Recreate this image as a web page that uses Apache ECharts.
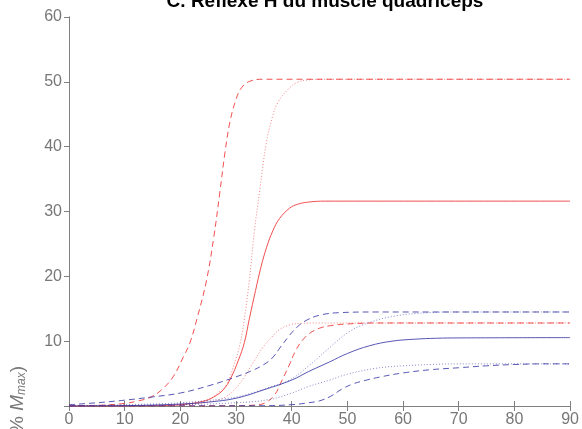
<!DOCTYPE html>
<html>
<head>
<meta charset="utf-8">
<script src="https://cdn.jsdelivr.net/npm/echarts@6/dist/echarts.min.js"></script>
<style>
html,body{margin:0;padding:0;background:#fff;}
#c{width:582px;height:429px;}
</style>
</head>
<body>
<div id="c"></div>
<script>
// x ticks / y ticks
var xTicks = [0,10,20,30,40,50,60,70,80,90];
var yTicks = [0,10,20,30,40,50,60];

// Red curves [x, % Mmax]
var redDashedHigh = [[0,0.05],[5,0.1],[10,0.4],[12.5,0.8],[14.5,1.3],[16.5,2.4],[18.7,4.5],[20.5,7.5],[21.7,9.7],[23,13.5],[24.7,19.4],[26,26],[27.1,33],[28,39],[28.9,43.8],[30,47.3],[31,49.1],[32.5,50.1],[35,50.4],[90,50.4]];
var redDottedHigh = [[0,0],[15,0.1],[20,0.3],[25,1.0],[27,2.2],[28.3,3.3],[29.5,6],[30.7,9.5],[31.5,13.5],[32.4,19.5],[33.3,27],[34.3,33.5],[35.4,40.4],[36.5,44.5],[37.5,46.8],[39.3,48.8],[41,49.9],[43,50.3],[46,50.4],[90,50.4]];
var redSolid = [[0,0],[15,0.05],[20,0.2],[24,0.7],[26,1.4],[27.7,2.5],[29,4.2],[30.4,7],[31.5,9.8],[32.4,13.5],[33.5,17.8],[34.5,21.5],[35.5,24.5],[36.6,27],[37.8,28.9],[39.6,30.5],[41,31.1],[43,31.45],[46,31.6],[90,31.6]];
var redDottedLow = [[0,0],[15,0.05],[20,0.15],[25,0.6],[27,1.0],[28.3,1.5],[30,2.8],[31.5,4.5],[33,6.6],[34.8,9.0],[36.6,10.8],[38,11.9],[39.6,12.5],[41.5,12.75],[45,12.8],[90,12.8]];
var redDashedLow = [[0,0],[30,0.05],[34,0.2],[35.5,0.6],[37,1.8],[38,3.5],[39.5,6.2],[40.8,8.7],[42,10.2],[43.2,11.2],[45,12],[47,12.4],[50,12.65],[55,12.8],[90,12.8]];

// Blue curves [x, % Mmax]
var blueDashedHigh = [[0,0.2],[5,0.5],[10,0.9],[15,1.4],[20,2.0],[25,3.1],[30,4.5],[33,5.5],[35,6.4],[36.5,7.4],[38,9.1],[39.6,10.9],[41,12.2],[42.6,13.2],[45,14.0],[48.6,14.4],[55,14.5],[90,14.5]];
var blueDottedHigh = [[0,0],[10,0.2],[20,0.5],[27.7,1.1],[30.7,1.5],[33.6,2.2],[36,2.9],[39.6,4.0],[43.2,6.3],[46.8,9.0],[50.4,11.5],[54,12.9],[58.7,13.9],[64.7,14.4],[70,14.5],[90,14.5]];
var blueSolid = [[0,0],[10,0.05],[20,0.3],[25,0.6],[30,1.2],[35,2.5],[40,4.0],[43,5.3],[46.8,6.8],[50,8.1],[54,9.3],[58,10.0],[62,10.3],[66,10.45],[70,10.5],[90,10.55]];
var blueDottedLow = [[0,0],[20,0.2],[30,0.5],[36,1.0],[40,2.0],[43,3.0],[46.8,4.0],[50,4.9],[55,5.8],[60,6.2],[65,6.4],[70,6.5],[90,6.5]];
var blueDashedLow = [[0,0],[35,0.05],[40,0.2],[43,0.5],[45,0.8],[47,1.5],[49,2.6],[51,3.4],[53,3.9],[56,4.5],[60,5.1],[65,5.6],[70,5.9],[75,6.2],[80,6.4],[85,6.5],[90,6.5]];

var RED = '#ee3030', BLUE = '#3a3aa8';
var DASH = [6,4], DOT = [1,2];

function mk(name, data, color, type, op){
  return {name:name, type:'line', data:data, xAxisIndex:0, yAxisIndex:0,
    smooth:0.4, showSymbol:false, symbol:'none', silent:true,
    lineStyle:{color:color, width:1, type:type, opacity:op}};
}

var axisGrey = '#808080';
var FF = 'Liberation Sans, Arial, sans-serif';
var chart = echarts.init(document.getElementById('c'), null, {renderer:'canvas'});
chart.setOption({
  animation:false,
  title:{text:'C. Réflexe H du muscle quadriceps', left:320, textAlign:'center', top:-13,
    textStyle:{fontFamily:FF, fontWeight:'bold', fontSize:19, color:'#000'}},
  grid:{left:69, right:11, top:17, bottom:23},
  xAxis:[
    {type:'value', min:xTicks[0], max:xTicks[xTicks.length-1], interval:10, position:'bottom',
     axisLine:{show:true, lineStyle:{color:axisGrey, width:1}},
     axisTick:{show:true, inside:true, length:5, lineStyle:{color:axisGrey}},
     axisLabel:{color:'#777', fontSize:16, fontFamily:FF, margin:6},
     splitLine:{show:false}},
    {type:'value', min:xTicks[0], max:xTicks[xTicks.length-1], interval:10, position:'top',
     axisLine:{show:true, lineStyle:{color:axisGrey, width:1}},
     axisTick:{show:true, inside:true, length:5, lineStyle:{color:axisGrey}},
     axisLabel:{show:false}, splitLine:{show:false}}
  ],
  yAxis:[
    {type:'value', min:yTicks[0], max:yTicks[yTicks.length-1], interval:10, position:'left',
     axisLine:{show:true, lineStyle:{color:axisGrey, width:1}},
     axisTick:{show:true, inside:false, length:4, lineStyle:{color:axisGrey}},
     axisLabel:{color:'#777', fontSize:16, fontFamily:FF, margin:7, showMinLabel:false},
     splitLine:{show:false}},
    {type:'value', min:yTicks[0], max:yTicks[yTicks.length-1], interval:10, position:'right',
     axisLine:{show:true, lineStyle:{color:axisGrey, width:1}},
     axisTick:{show:true, inside:true, length:5, lineStyle:{color:axisGrey}},
     axisLabel:{show:false}, splitLine:{show:false}}
  ],
  graphic:[{
    type:'text', x:18, y:366, rotation:Math.PI/2,
    style:{
      text:'Réflexe H (% {i|M}{s|max})',
      align:'right', verticalAlign:'middle',
      fill:'#777', fontSize:19, fontFamily:FF,
      rich:{
        i:{fontStyle:'italic', fontSize:19, fill:'#777', fontFamily:FF},
        s:{fontStyle:'italic', fontSize:12, fill:'#777', fontFamily:FF, verticalAlign:'bottom', padding:[7,0,0,0]}
      }
    }
  }],
  series:[
    mk('rDH', redDashedHigh, RED, DASH, 0.85),
    mk('rTH', redDottedHigh, RED, DOT, 0.6),
    mk('rS', redSolid, RED, 'solid', 0.85),
    mk('rTL', redDottedLow, RED, DOT, 0.6),
    mk('rDL', redDashedLow, RED, DASH, 0.85),
    mk('bDH', blueDashedHigh, BLUE, DASH, 0.85),
    mk('bTH', blueDottedHigh, BLUE, DOT, 0.6),
    mk('bS', blueSolid, BLUE, 'solid', 0.85),
    mk('bTL', blueDottedLow, BLUE, DOT, 0.6),
    mk('bDL', blueDashedLow, BLUE, DASH, 0.85)
  ]
});
</script>
</body>
</html>
